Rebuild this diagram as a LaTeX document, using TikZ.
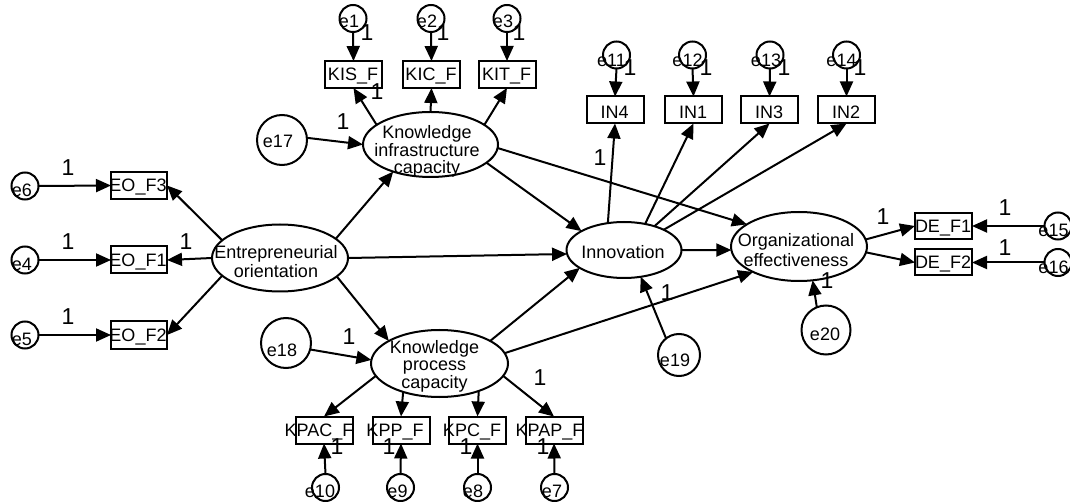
\documentclass[tikz,border=0pt]{standalone}
\usepackage{fontspec}
\setmainfont{Liberation Sans}
\usetikzlibrary{shapes.geometric,arrows.meta}
\begin{document}
\begin{tikzpicture}[x=1pt,y=-1pt,
  every node/.style={inner sep=0pt, outer sep=0pt},
  conn/.style={line width=2pt, -{Triangle[length=15pt,width=13pt]}},
  obsbox/.style={draw, line width=2pt, rectangle, minimum width=57pt, minimum height=27pt},
  lat/.style={draw, line width=2pt, ellipse},
  errs/.style={draw, line width=2pt, circle, minimum size=27pt},
  errb/.style={draw, line width=2pt, circle},
  txt/.style={font=\fontsize{18}{18}\selectfont},
  ltxt/.style={align=center, font=\fontsize{18}{#1}\selectfont},
  one/.style={font=\fontsize{23}{23}\selectfont}
]
\useasboundingbox (0,0) rectangle (1070,502);
\fill[white] (0,0) rectangle (1070,502);

% ---- latent variables
\node[lat, minimum width=135pt, minimum height=65pt] (KI) at (430.5,144.5) {};
\node[ltxt=17.5] (KIt) at (427,151.5) {Knowledge\\infrastructure\\capacity};
\node[lat, minimum width=136pt, minimum height=67pt] (EO) at (280,258) {};
\node[ltxt=19.5] (EOt) at (276,261.5) {Entrepreneurial\\orientation};
\node[lat, minimum width=137pt, minimum height=67pt] (KP) at (439.5,363.5) {};
\node[ltxt=17.5] (KPt) at (434.5,366) {Knowledge\\process\\capacity};
\node[lat, minimum width=115pt, minimum height=56pt] (Inn) at (624,250) {};
\node[txt] (Innt) at (623,252.5) {Innovation};
\node[lat, minimum width=136pt, minimum height=69pt] (OE) at (799,246.5) {};
\node[ltxt=19.5] (OEt) at (796,250) {Organizational\\effectiveness};

% ---- observed boxes
\node[obsbox] (KIS) at (353.5,74.5) {};  \node[txt] (KISt) at (353,76.5) {KIS\_F};
\node[obsbox] (KIC) at (431.5,74.5) {};  \node[txt] (KICt) at (431,76.5) {KIC\_F};
\node[obsbox] (KIT) at (507,74.5) {};    \node[txt] (KITt) at (506.5,76.5) {KIT\_F};
\node[obsbox] (IN4) at (615,110) {};     \node[txt] (IN4t) at (614.5,112.5) {IN4};
\node[obsbox] (IN1) at (693.5,110) {};   \node[txt] (IN1t) at (693,112.5) {IN1};
\node[obsbox] (IN3) at (769.5,110) {};   \node[txt] (IN3t) at (769,112.5) {IN3};
\node[obsbox] (IN2) at (846.5,110) {};   \node[txt] (IN2t) at (846,112.5) {IN2};
\node[obsbox, minimum width=56pt] (EOF3) at (139,185.5) {}; \node[txt] (EOF3t) at (138,187.5) {EO\_F3};
\node[obsbox, minimum width=56pt] (EOF1) at (139,260) {};   \node[txt] (EOF1t) at (138,262) {EO\_F1};
\node[obsbox, minimum width=56pt] (EOF2) at (139,335) {};   \node[txt] (EOF2t) at (138,337) {EO\_F2};
\node[obsbox] (KPAC) at (324,430) {};   \node[txt] (KPACt) at (319,432) {KPAC\_F};
\node[obsbox] (KPP) at (401,430) {};    \node[txt] (KPPt) at (395,432) {KPP\_F};
\node[obsbox] (KPC) at (477.5,430) {};  \node[txt] (KPCt) at (472,432) {KPC\_F};
\node[obsbox] (KPAP) at (554,430) {};   \node[txt] (KPAPt) at (549.5,432) {KPAP\_F};
\node[obsbox, minimum height=26pt] (DEF1) at (943.5,226) {};   \node[txt] (DEF1t) at (943,228) {DE\_F1};
\node[obsbox, minimum height=26pt] (DEF2) at (943.5,262.5) {}; \node[txt] (DEF2t) at (943,264.5) {DE\_F2};

% ---- small error circles
\node[errs] (e1) at (353,18.5) {};   \node[txt] (e1t) at (349,21.5) {e1};
\node[errs] (e2) at (431,18.5) {};   \node[txt] (e2t) at (427,21.5) {e2};
\node[errs] (e3) at (507,18.5) {};   \node[txt] (e3t) at (503,21.5) {e3};
\node[errs] (e11) at (616.5,55) {};  \node[txt] (e11t) at (611.5,60) {e11};
\node[errs] (e12) at (692.5,55) {};  \node[txt] (e12t) at (687.5,60) {e12};
\node[errs] (e13) at (770,55) {};    \node[txt] (e13t) at (766,60) {e13};
\node[errs] (e14) at (846.5,55) {};  \node[txt] (e14t) at (841.5,60) {e14};
\node[errs] (e6) at (25,186) {};     \node[txt] (e6t) at (22,190.5) {e6};
\node[errs] (e4) at (25,260) {};     \node[txt] (e4t) at (22,264.5) {e4};
\node[errs] (e5) at (25,335) {};     \node[txt] (e5t) at (22,339.5) {e5};
\node[errs] (e10) at (325.5,487.5) {}; \node[txt] (e10t) at (320,491.5) {e10};
\node[errs] (e9) at (400.5,487.5) {};  \node[txt] (e9t) at (397.5,491.5) {e9};
\node[errs] (e8) at (477.5,487.5) {};  \node[txt] (e8t) at (473,491.5) {e8};
\node[errs] (e7) at (554.5,487.5) {};  \node[txt] (e7t) at (552,491.5) {e7};
\node[errs] (e15) at (1058,226) {};    \node[txt] (e15t) at (1053.5,230) {e15};
\node[errs] (e16) at (1058,262.5) {};  \node[txt] (e16t) at (1053.5,267) {e16};

% ---- large error circles
\node[errb, minimum size=50pt] (e17) at (282,140) {}; \node[txt] (e17t) at (278,141.5) {e17};
\node[errb, minimum size=50pt] (e18) at (286,343) {}; \node[txt] (e18t) at (282,350) {e18};
\node[errb, minimum size=42pt] (e19) at (679,355) {}; \node[txt] (e19t) at (675,360) {e19};
\node[errb, minimum size=49pt] (e20) at (826,330) {}; \node[txt] (e20t) at (825,334) {e20};

% ---- connectors
\draw[conn] (e1.south) -- (KIS.north);
\draw[conn] (e2.south) -- (KIC.north);
\draw[conn] (e3.south) -- (KIT.north);
\draw[conn] (KI.160) -- (KIS.south);
\draw[conn] (KI.north) -- (KIC.south);
\draw[conn] (KI.20) -- (KIT.south);
\draw[conn] (e17.5) -- (KI.180);

\draw[conn] (EO.163) -- (EOF3.east);
\draw[conn] (EO.180) -- (EOF1.east);
\draw[conn] (EO.197) -- (EOF2.east);
\draw[conn] (e6.east) -- (EOF3.west);
\draw[conn] (e4.east) -- (EOF1.west);
\draw[conn] (e5.east) -- (EOF2.west);
\draw[conn] (EO.19) -- (KI.216);
\draw[conn] (EO.east) -- (Inn.184);
\draw[conn] (EO.342) -- (KP.156);

\draw[conn] (e18.345) -- (KP.177);
\draw[conn] (KP.191) -- (KPAC.north);
\draw[conn] (KP.218) -- (KPP.north);
\draw[conn] (KP.325) -- (KPC.north);
\draw[conn] (KP.349) -- (KPAP.north);
\draw[conn] (e10.north) -- (KPAC.south);
\draw[conn] (e9.north) -- (KPP.south);
\draw[conn] (e8.north) -- (KPC.south);
\draw[conn] (e7.north) -- (KPAP.south);
\draw[conn] (KP.24) -- (Inn.202);
\draw[conn] (KP.9) -- (OE.209);

\draw[conn] (KI.342) -- (Inn.156);
\draw[conn] (KI.357) -- (OE.157);

\draw[conn] (Inn.121) -- (IN4.south);
\draw[conn] (Inn.51) -- (IN1.south);
\draw[conn] (Inn.38) -- (IN3.south);
\draw[conn] (Inn.27) -- (IN2.south);
\draw[conn] (e11.south) -- (IN4.north);
\draw[conn] (e12.south) -- (IN1.north);
\draw[conn] (e13.south) -- (IN3.north);
\draw[conn] (e14.south) -- (IN2.north);
\draw[conn] (e19.128) -- (Inn.302);
\draw[conn] (Inn.east) -- (OE.183);
\draw[conn] (e20.112) -- (OE.292);

\draw[conn] (OE.6) -- (DEF1.west);
\draw[conn] (OE.355) -- (DEF2.west);
\draw[conn] (e15.west) -- (DEF1.east);
\draw[conn] (e16.west) -- (DEF2.east);

% ---- "1" labels
\node[one] (l1) at (367,33) {1};
\node[one] (l2) at (443,33) {1};
\node[one] (l3) at (519,33) {1};
\node[one] (l4) at (377,92) {1};
\node[one] (l5) at (343,122) {1};
\node[one] (l6) at (630,68) {1};
\node[one] (l7) at (706,68) {1};
\node[one] (l8) at (784,68) {1};
\node[one] (l9) at (860,68) {1};
\node[one] (l10) at (600,158) {1};
\node[one] (l11) at (68,168) {1};
\node[one] (l12) at (68,242) {1};
\node[one] (l13) at (68,317) {1};
\node[one] (l14) at (186,242) {1};
\node[one] (l15) at (349,337) {1};
\node[one] (l16) at (540,378) {1};
\node[one] (l17) at (337,447) {1};
\node[one] (l18) at (389,447) {1};
\node[one] (l19) at (466,447) {1};
\node[one] (l20) at (543,447) {1};
\node[one] (l21) at (667,293) {1};
\node[one] (l22) at (883,217) {1};
\node[one] (l23) at (1005,208) {1};
\node[one] (l24) at (1005,248) {1};
\node[one] (l25) at (827,281) {1};
\end{tikzpicture}
\end{document}
